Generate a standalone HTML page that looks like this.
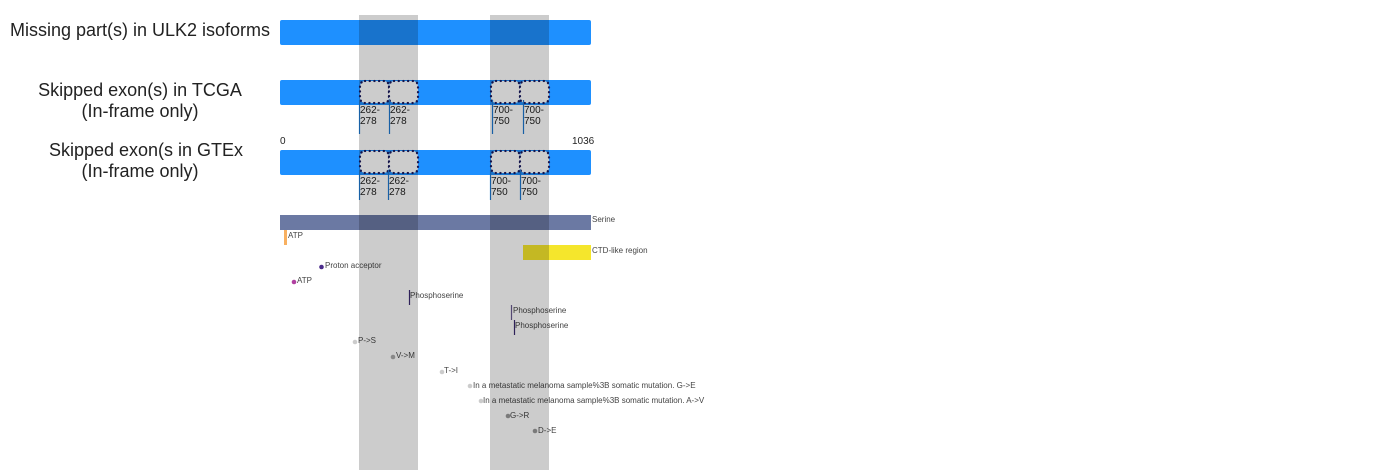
<!DOCTYPE html>
<html><head><meta charset="utf-8"><style>
html,body{margin:0;padding:0;background:#fff;}
svg{display:block;font-family:"Liberation Sans",sans-serif;}
</style></head><body>
<svg width="1400" height="470" viewBox="0 0 1400 470" xmlns="http://www.w3.org/2000/svg">
<g font-size="18" fill="#222" text-anchor="middle">
<text x="140" y="36">Missing part(s) in ULK2 isoforms</text>
<text x="140" y="96">Skipped exon(s) in TCGA</text>
<text x="140" y="117">(In-frame only)</text>
<text x="146" y="156">Skipped exon(s in GTEx</text>
<text x="140" y="177">(In-frame only)</text>
</g>
<rect x="280" y="20" width="311" height="25" rx="2" fill="#1e90ff"/>
<rect x="280" y="80" width="311" height="25" rx="2" fill="#1e90ff"/>
<rect x="280" y="150" width="311" height="25" rx="2" fill="#1e90ff"/>
<g fill="#fff" stroke="#1a1a5e" stroke-width="2.3" stroke-dasharray="0.1 4.6" stroke-linecap="round">
<rect x="360" y="81" width="29" height="22" rx="5"/><rect x="389" y="81" width="29" height="22" rx="5"/>
<rect x="491" y="81" width="29" height="22" rx="5"/><rect x="520" y="81" width="29" height="22" rx="5"/>
<rect x="360" y="151" width="29" height="22" rx="5"/><rect x="389" y="151" width="29" height="22" rx="5"/>
<rect x="491" y="151" width="29" height="22" rx="5"/><rect x="520" y="151" width="29" height="22" rx="5"/>
</g>
<g stroke="#1e78d0" stroke-width="1.2">
<line x1="359.5" y1="100" x2="359.5" y2="134"/><line x1="389.5" y1="100" x2="389.5" y2="134"/>
<line x1="492.5" y1="100" x2="492.5" y2="134"/><line x1="523.5" y1="100" x2="523.5" y2="134"/>
<line x1="359.5" y1="170" x2="359.5" y2="200"/><line x1="388.5" y1="170" x2="388.5" y2="200"/>
<line x1="490.5" y1="170" x2="490.5" y2="200"/><line x1="520.5" y1="170" x2="520.5" y2="200"/>
</g>
<g font-size="10" fill="#222">
<text x="360" y="113">262-</text><text x="360" y="124">278</text>
<text x="390" y="113">262-</text><text x="390" y="124">278</text>
<text x="493" y="113">700-</text><text x="493" y="124">750</text>
<text x="524" y="113">700-</text><text x="524" y="124">750</text>
<text x="360" y="184">262-</text><text x="360" y="195">278</text>
<text x="389" y="184">262-</text><text x="389" y="195">278</text>
<text x="491" y="184">700-</text><text x="491" y="195">750</text>
<text x="521" y="184">700-</text><text x="521" y="195">750</text>
<text x="280" y="144">0</text><text x="572" y="144">1036</text>
</g>
<rect x="280" y="215" width="311" height="15" fill="#6b79a3"/>
<rect x="284" y="230" width="3" height="15" fill="#f8b060"/>
<rect x="523" y="245" width="68" height="15" fill="#f5e62c"/>
<g font-size="8" fill="#444">
<text x="592" y="222">Serine</text>
<text x="288" y="238">ATP</text>
<text x="592" y="253">CTD-like region</text>
<text x="325" y="268">Proton acceptor</text>
<text x="297" y="283">ATP</text>
<text x="410" y="298">Phosphoserine</text>
<text x="513" y="313">Phosphoserine</text>
<text x="515" y="328">Phosphoserine</text>
<text x="358" y="343">P-&gt;S</text>
<text x="396" y="358">V-&gt;M</text>
<text x="444" y="373">T-&gt;I</text>
<text x="473" y="388">In a metastatic melanoma sample%3B somatic mutation. G-&gt;E</text>
<text x="483" y="403">In a metastatic melanoma sample%3B somatic mutation. A-&gt;V</text>
<text x="510" y="418">G-&gt;R</text>
<text x="538" y="433">D-&gt;E</text>
</g>
<circle cx="321.5" cy="267" r="2.3" fill="#4a2a8a"/>
<circle cx="294" cy="282" r="2.3" fill="#b040a0"/>
<line x1="409.5" y1="290" x2="409.5" y2="305" stroke="#3a2a70" stroke-width="1.2"/>
<line x1="511.5" y1="305" x2="511.5" y2="320" stroke="#6a5a90" stroke-width="1.2"/>
<line x1="514.5" y1="320" x2="514.5" y2="335" stroke="#3a2a70" stroke-width="1.2"/>
<circle cx="355" cy="342" r="2.3" fill="#ccc"/>
<circle cx="393" cy="357" r="2.3" fill="#aaa"/>
<circle cx="442" cy="372" r="2.3" fill="#ccc"/>
<circle cx="470" cy="386" r="2.3" fill="#ccc"/>
<circle cx="481" cy="401" r="2.3" fill="#ccc"/>
<circle cx="508" cy="416" r="2.3" fill="#999"/>
<circle cx="535" cy="431" r="2.3" fill="#999"/>
<rect x="359" y="15" width="59" height="455" fill="#000" fill-opacity="0.2"/>
<rect x="490" y="15" width="59" height="455" fill="#000" fill-opacity="0.2"/>
</svg>
</body></html>
